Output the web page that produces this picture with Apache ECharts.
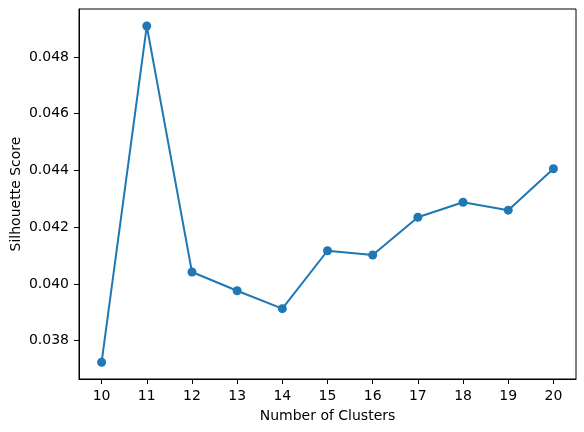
<!DOCTYPE html>
<html>
<head>
<meta charset="utf-8">
<script src="https://cdn.jsdelivr.net/npm/echarts@6/dist/echarts.min.js"></script>
<style>
  html, body { margin: 0; padding: 0; background: #fff; }
  #chart { width: 584px; height: 432px; }
</style>
</head>
<body>
<div id="chart"></div>
<script>
// number of clusters vs silhouette score
const clusters = [10, 11, 12, 13, 14, 15, 16, 17, 18, 19, 20]
const scores = [0.03724, 0.04909, 0.04042, 0.03976, 0.03913, 0.04117, 0.04102, 0.04235, 0.04288, 0.0426, 0.04406]
const yTicks = [0.038, 0.040, 0.042, 0.044, 0.046, 0.048]

const font = 'DejaVu Sans'
const chart = echarts.init(document.getElementById('chart'), null, { renderer: 'canvas' })

chart.setOption({
  animation: false,
  backgroundColor: '#fff',
  grid: {
    left: 79,
    right: 8,
    top: 9,
    bottom: 53,
    outerBoundsMode: 'none',
    show: true,
    borderColor: '#000',
    borderWidth: 1
  },
  xAxis: {
    type: 'value',
    min: 9.5,
    max: 20.5,
    name: 'Number of Clusters',
    nameLocation: 'middle',
    nameGap: 30,
    nameMoveOverlap: false,
    nameTextStyle: { color: '#000', fontSize: 14, fontFamily: font },
    axisLine: { lineStyle: { color: '#000', width: 1 } },
    axisTick: { show: true, length: 5, lineStyle: { color: '#000' }, customValues: clusters },
    axisLabel: { color: '#000', fontSize: 14, fontFamily: font, margin: 10, customValues: clusters },
    splitLine: { show: false }
  },
  yAxis: {
    type: 'value',
    min: 0.03665,
    max: 0.04969,
    name: 'Silhouette Score',
    nameLocation: 'middle',
    nameGap: 56,
    nameMoveOverlap: false,
    nameTextStyle: { color: '#000', fontSize: 14, fontFamily: font },
    axisLine: { show: true, lineStyle: { color: '#000', width: 1 } },
    axisTick: { show: true, length: 5, lineStyle: { color: '#000' }, customValues: yTicks },
    axisLabel: {
      color: '#000', fontSize: 14, fontFamily: font, margin: 10,
      customValues: yTicks,
      formatter: (v) => v.toFixed(3)
    },
    splitLine: { show: false }
  },
  series: [
    {
      type: 'line',
      data: clusters.map((c, i) => [c, scores[i]]),
      symbol: 'circle',
      symbolSize: 9,
      lineStyle: { color: '#1f77b4', width: 2 },
      itemStyle: { color: '#1f77b4' }
    }
  ]
})
</script>
</body>
</html>
